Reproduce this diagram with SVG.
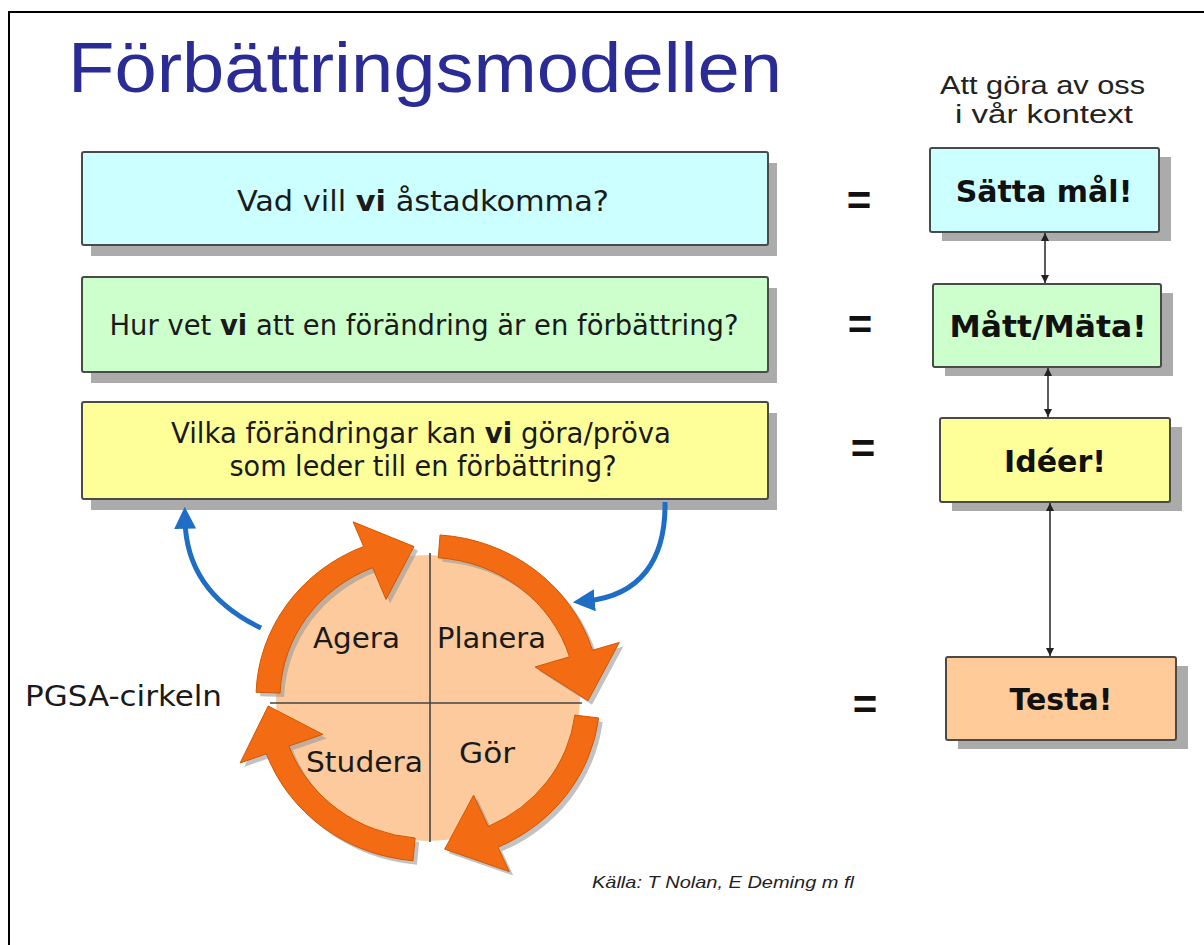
<svg xmlns="http://www.w3.org/2000/svg" width="1204" height="945" viewBox="0 0 1204 945">
<style>
.box{stroke:#4a4a4a;stroke-width:2}
.shadow{fill:#ababab}
.q{font-family:"DejaVu Sans Condensed","DejaVu Sans",sans-serif;font-size:29px;fill:#1a1a1a;text-anchor:middle}
.q .b{font-weight:bold}
.r{font-family:"DejaVu Sans",Verdana,sans-serif;font-weight:bold;font-size:30px;fill:#111;text-anchor:middle}
.c{font-family:"DejaVu Sans",Verdana,sans-serif;font-size:29px;fill:#1a1a1a}
.eq{font-family:"Liberation Sans",Arial,sans-serif;font-size:42px;font-weight:bold;fill:#111;text-anchor:middle}
.ar{font-family:"Liberation Sans",Arial,sans-serif;fill:#222}
.conn{stroke:#333;stroke-width:1.6;fill:none}
.blue{stroke:#1f6ec6;stroke-width:5;fill:none}
</style>
<defs>
<marker id="ah" viewBox="0 0 10 10" refX="10" refY="5" markerWidth="9" markerHeight="8" markerUnits="userSpaceOnUse" orient="auto-start-reverse">
<path d="M0,0 L10,5 L0,10 z" fill="#222"/>
</marker>
<marker id="bh" viewBox="0 0 20 20" refX="8" refY="10" markerWidth="22" markerHeight="22" markerUnits="userSpaceOnUse" orient="auto">
<path d="M0,0 L20,10 L0,20 z" fill="#1f6ec6"/>
</marker>
<g id="cyc">
<path d="M 12.0 -171.6 A 172 172 0 0 1 164.5 -50.3 L 191.3 -58.5 L 160.0 2.8 L 107.1 -32.7 L 141.5 -43.3 A 148 148 0 0 0 10.3 -147.6 Z"/>
<path d="M 170.7 21.0 A 172 172 0 0 1 70.0 157.1 L 81.3 182.7 L 16.7 159.1 L 45.6 102.3 L 60.2 135.2 A 148 148 0 0 0 146.9 18.0 Z"/>
<path d="M -15.0 171.3 A 172 172 0 0 1 -161.6 58.8 L -187.9 68.4 L -159.8 8.4 L -105.2 38.3 L -139.1 50.6 A 148 148 0 0 0 -12.9 147.4 Z"/>
<path d="M -171.9 -6.0 A 172 172 0 0 1 -64.4 -159.5 L -74.9 -185.4 L -14.0 -159.4 L -42.0 -103.8 L -55.4 -137.2 A 148 148 0 0 0 -147.9 -5.2 Z"/>
</g>
</defs>
<rect width="1204" height="945" fill="#fff"/>
<rect x="9" y="12" width="1200" height="940" fill="none" stroke="#000" stroke-width="2"/>

<g id="title">
<text x="68" y="92" font-family="'Liberation Sans',Arial,sans-serif" font-size="70" fill="#2b2b95" textLength="714" lengthAdjust="spacingAndGlyphs">Förbättringsmodellen</text>
</g>
<g id="context-label">
<text class="ar" x="940" y="94" font-size="25" textLength="205" lengthAdjust="spacingAndGlyphs">Att göra av oss</text>
<text class="ar" x="955" y="123" font-size="25" textLength="178" lengthAdjust="spacingAndGlyphs">i vår kontext</text>
</g>

<g id="q1">
<rect class="shadow" x="91" y="163" width="686" height="93"/>
<rect class="box" x="82" y="152" width="686" height="93" fill="#ccffff" rx="2"/>
<text class="q" x="423" y="211" textLength="372" lengthAdjust="spacingAndGlyphs">Vad vill <tspan class="b">vi</tspan> åstadkomma?</text>
</g>
<g id="q2">
<rect class="shadow" x="91" y="288" width="686" height="95"/>
<rect class="box" x="82" y="277" width="686" height="95" fill="#ccffcc" rx="2"/>
<text class="q" x="424" y="335" textLength="629" lengthAdjust="spacingAndGlyphs">Hur vet <tspan class="b">vi</tspan> att en förändring är en förbättring?</text>
</g>
<g id="q3">
<rect class="shadow" x="91" y="413" width="686" height="97"/>
<rect class="box" x="82" y="402" width="686" height="97" fill="#ffff99" rx="2"/>
<text class="q" x="421" y="443" textLength="500" lengthAdjust="spacingAndGlyphs">Vilka förändringar kan <tspan class="b">vi</tspan> göra/pröva</text>
<text class="q" x="423" y="476" textLength="387" lengthAdjust="spacingAndGlyphs">som leder till en förbättring?</text>
</g>

<g id="eq">
<text class="eq" x="859" y="215">=</text>
<text class="eq" x="860" y="339">=</text>
<text class="eq" x="863" y="463">=</text>
<text class="eq" x="865" y="719">=</text>
</g>

<g id="r1">
<rect class="shadow" x="942" y="157" width="229" height="84"/>
<rect class="box" x="930" y="148" width="229" height="84" fill="#ccffff" rx="2"/>
<text class="r" x="1044" y="202">Sätta mål!</text>
</g>
<g id="r2">
<rect class="shadow" x="945" y="293" width="228" height="83"/>
<rect class="box" x="933" y="284" width="228" height="83" fill="#ccffcc" rx="2"/>
<text class="r" x="1048" y="337" textLength="197" lengthAdjust="spacingAndGlyphs">Mått/Mäta!</text>
</g>
<g id="r3">
<rect class="shadow" x="952" y="427" width="230" height="84"/>
<rect class="box" x="940" y="418" width="230" height="84" fill="#ffff99" rx="2"/>
<text class="r" x="1055" y="472">Idéer!</text>
</g>
<g id="r4">
<rect class="shadow" x="958" y="666" width="230" height="83"/>
<rect class="box" x="946" y="657" width="230" height="83" fill="#ffcc99" rx="2"/>
<text class="r" x="1061" y="710">Testa!</text>
</g>

<g id="pgsa">
<ellipse cx="428" cy="698" rx="152" ry="143" fill="#fcca9c"/>
<line x1="430" y1="553" x2="430" y2="842" stroke="#444" stroke-width="1.6"/>
<line x1="270" y1="703" x2="582" y2="703" stroke="#444" stroke-width="1.6"/>
<use href="#cyc" transform="translate(432,702) scale(1,0.95)" fill="#9a9a9a" opacity="0.6"/>
<use href="#cyc" transform="translate(428,698) scale(1,0.95)" fill="#f36b12" stroke="#cf5500" stroke-width="1"/>
<text class="c" x="313" y="648" textLength="87" lengthAdjust="spacingAndGlyphs">Agera</text>
<text class="c" x="437" y="648" textLength="109" lengthAdjust="spacingAndGlyphs">Planera</text>
<text class="c" x="306" y="772" textLength="117" lengthAdjust="spacingAndGlyphs">Studera</text>
<text class="c" x="459" y="763" textLength="56" lengthAdjust="spacingAndGlyphs">Gör</text>
</g>
<g id="pgsa-label">
<text class="c" x="25" y="706" font-size="30" textLength="197" lengthAdjust="spacingAndGlyphs">PGSA-cirkeln</text>
</g>
<g id="source">
<text class="ar" x="592" y="888" font-size="17" font-style="italic" fill="#333" textLength="262" lengthAdjust="spacingAndGlyphs">Källa: T Nolan, E Deming m fl</text>
</g>

<g id="connectors">
<line class="conn" x1="1045" y1="233" x2="1045" y2="283" marker-start="url(#ah)" marker-end="url(#ah)"/>
<line class="conn" x1="1048" y1="368" x2="1048" y2="417" marker-start="url(#ah)" marker-end="url(#ah)"/>
<line class="conn" x1="1050" y1="503" x2="1050" y2="656" marker-start="url(#ah)" marker-end="url(#ah)"/>
<path class="blue" d="M 261 628 C 215 606 186 572 185 520" marker-end="url(#bh)"/>
<path class="blue" d="M 665 502 C 666 560 640 596 586 601" marker-end="url(#bh)"/>
</g>
</svg>
